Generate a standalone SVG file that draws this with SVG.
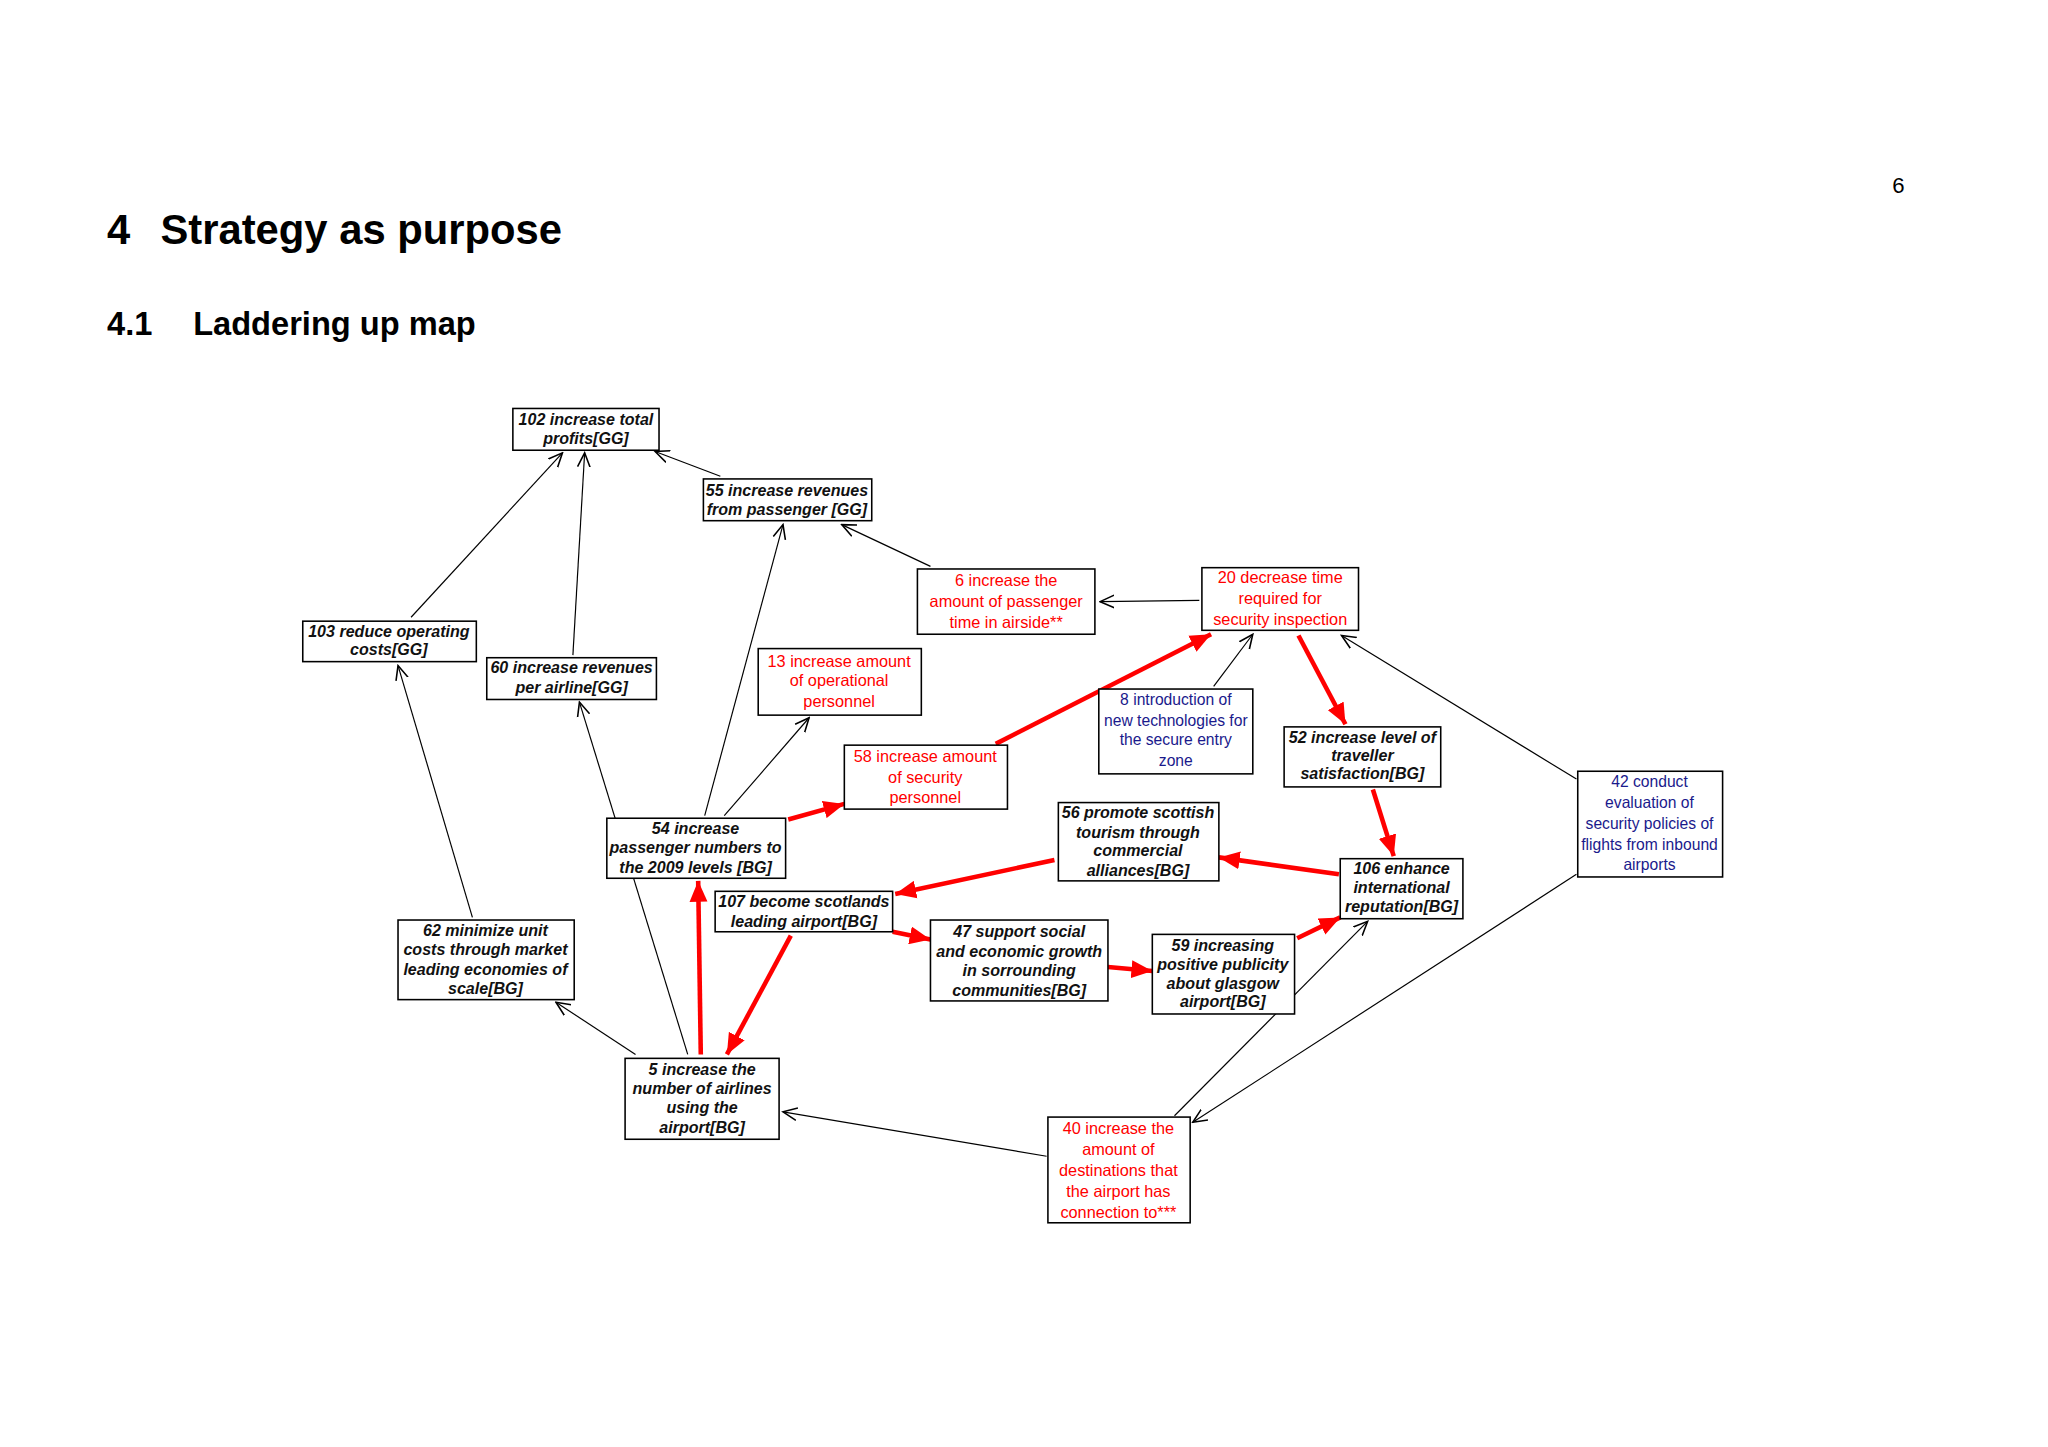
<svg xmlns="http://www.w3.org/2000/svg" width="2048" height="1447" viewBox="0 0 2048 1447">
<style>
.b{fill:#fff;stroke:#000;stroke-width:1.2}
.k{font-family:"Liberation Sans",Arial,sans-serif;font-size:12.3px;font-weight:bold;font-style:italic;fill:#111;text-anchor:middle}
.r{font-family:"Liberation Sans",Arial,sans-serif;font-size:12.5px;fill:#f00;text-anchor:middle}
.u{font-family:"Liberation Sans",Arial,sans-serif;font-size:12px;fill:#1a1a8c;text-anchor:middle}
.t{stroke:#000;stroke-width:0.9;fill:none;marker-end:url(#oa)}
.h{stroke:#f00;stroke-width:3.5;fill:none;marker-end:url(#fa)}
.hd{font-family:"Liberation Sans",Arial,sans-serif;font-weight:bold;fill:#000}
</style>
<defs>
<marker id="oa" markerUnits="userSpaceOnUse" markerWidth="12" markerHeight="12" refX="9" refY="5" orient="auto" viewBox="0 0 10 10"><path d="M0,1 L9,5 L0,9" fill="none" stroke="#000" stroke-width="1"/></marker>
<marker id="fa" markerUnits="userSpaceOnUse" markerWidth="16" markerHeight="14" refX="14" refY="6" orient="auto" viewBox="0 0 14 12"><path d="M0,0 L14,6 L0,12 Z" fill="#f00"/></marker>
</defs>
<rect width="2048" height="1447" fill="#fff"/>
<g transform="scale(1.305)">
<text class="hd" x="82" y="187" font-size="32">4</text><text class="hd" x="123" y="187" font-size="32">Strategy as purpose</text>
<text class="hd" x="82" y="257" font-size="25">4.1</text><text class="hd" x="148" y="257" font-size="25">Laddering up map</text>
<text x="1450" y="148" font-family="Liberation Sans,Arial,sans-serif" font-size="17">6</text>
<g id="connectors">
<line class="t" x1="315" y1="473" x2="431" y2="347"/>
<line class="t" x1="439" y1="502" x2="448" y2="347"/>
<line class="t" x1="552" y1="365" x2="502" y2="346"/>
<line class="t" x1="713" y1="434" x2="645" y2="402"/>
<line class="t" x1="919" y1="460" x2="843" y2="461"/>
<line class="t" x1="540" y1="625" x2="600" y2="402"/>
<line class="t" x1="555" y1="625" x2="620" y2="550"/>
<line class="t" x1="930" y1="526" x2="960" y2="486"/>
<line class="t" x1="1208" y1="597" x2="1028" y2="487"/>
<line class="t" x1="362" y1="703" x2="305" y2="510"/>
<line class="t" x1="527" y1="808" x2="444" y2="538"/>
<line class="t" x1="487" y1="808" x2="426" y2="768"/>
<line class="t" x1="802" y1="886" x2="600" y2="852"/>
<line class="t" x1="900" y1="855" x2="1048" y2="706"/>
<line class="t" x1="1208" y1="670" x2="914" y2="860"/>
<line class="h" x1="763" y1="570" x2="928" y2="486"/>
<line class="h" x1="604" y1="628" x2="647" y2="616"/>
<line class="h" x1="995" y1="487" x2="1031" y2="555"/>
<line class="h" x1="1052" y1="605" x2="1068" y2="656"/>
<line class="h" x1="1026" y1="670" x2="934" y2="657"/>
<line class="h" x1="808" y1="659" x2="686" y2="685"/>
<line class="h" x1="684" y1="714" x2="713" y2="720"/>
<line class="h" x1="849" y1="741" x2="883" y2="744"/>
<line class="h" x1="994" y1="719" x2="1027" y2="703"/>
<line class="h" x1="537" y1="808" x2="535" y2="675"/>
<line class="h" x1="606" y1="717" x2="557" y2="808"/>
</g>
<g id="n102"><rect class="b" x="393" y="313" width="112" height="32"/><text class="k" x="449" y="326">102 increase total</text><text class="k" x="449" y="340">profits[GG]</text></g>
<g id="n55"><rect class="b" x="539" y="367" width="129" height="32"/><text class="k" x="603" y="380">55 increase revenues</text><text class="k" x="603" y="395">from passenger [GG]</text></g>
<g id="n6"><rect class="b" x="703" y="436" width="136" height="50"/><text class="r" x="771" y="449">6 increase the</text><text class="r" x="771" y="465">amount of passenger</text><text class="r" x="771" y="481">time in airside**</text></g>
<g id="n20"><rect class="b" x="921" y="435" width="120" height="48"/><text class="r" x="981" y="447">20 decrease time</text><text class="r" x="981" y="463">required for</text><text class="r" x="981" y="479">security inspection</text></g>
<g id="n103"><rect class="b" x="232" y="476" width="133" height="31"/><text class="k" x="298" y="488">103 reduce operating</text><text class="k" x="298" y="502">costs[GG]</text></g>
<g id="n60"><rect class="b" x="373" y="504" width="130" height="32"/><text class="k" x="438" y="516">60 increase revenues</text><text class="k" x="438" y="531">per airline[GG]</text></g>
<g id="n13"><rect class="b" x="581" y="497" width="125" height="51"/><text class="r" x="643" y="511">13 increase amount</text><text class="r" x="643" y="526">of operational</text><text class="r" x="643" y="542">personnel</text></g>
<g id="n58"><rect class="b" x="647" y="571" width="125" height="49"/><text class="r" x="709" y="584">58 increase amount</text><text class="r" x="709" y="600">of security</text><text class="r" x="709" y="615">personnel</text></g>
<g id="n8"><rect class="b" x="842" y="528" width="118" height="65"/><text class="u" x="901" y="540">8 introduction of</text><text class="u" x="901" y="556">new technologies for</text><text class="u" x="901" y="571">the secure entry</text><text class="u" x="901" y="587">zone</text></g>
<g id="n52"><rect class="b" x="984" y="557" width="120" height="46"/><text class="k" x="1044" y="569">52 increase level of</text><text class="k" x="1044" y="583">traveller</text><text class="k" x="1044" y="597">satisfaction[BG]</text></g>
<g id="n42"><rect class="b" x="1209" y="591" width="111" height="81"/><text class="u" x="1264" y="603">42 conduct</text><text class="u" x="1264" y="619">evaluation of</text><text class="u" x="1264" y="635">security policies of</text><text class="u" x="1264" y="651">flights from inbound</text><text class="u" x="1264" y="667">airports</text></g>
<g id="n56"><rect class="b" x="811" y="615" width="123" height="60"/><text class="k" x="872" y="627">56 promote scottish</text><text class="k" x="872" y="642">tourism through</text><text class="k" x="872" y="656">commercial</text><text class="k" x="872" y="671">alliances[BG]</text></g>
<g id="n106"><rect class="b" x="1027" y="658" width="94" height="46"/><text class="k" x="1074" y="670">106 enhance</text><text class="k" x="1074" y="684">international</text><text class="k" x="1074" y="699">reputation[BG]</text></g>
<g id="n54"><rect class="b" x="465" y="627" width="137" height="46"/><text class="k" x="533" y="639">54 increase</text><text class="k" x="533" y="654">passenger numbers to</text><text class="k" x="533" y="669">the 2009 levels [BG]</text></g>
<g id="n107"><rect class="b" x="548" y="683" width="136" height="31"/><text class="k" x="616" y="695">107 become scotlands</text><text class="k" x="616" y="710">leading airport[BG]</text></g>
<g id="n47"><rect class="b" x="713" y="705" width="136" height="62"/><text class="k" x="781" y="718">47 support social</text><text class="k" x="781" y="733">and economic growth</text><text class="k" x="781" y="748">in sorrounding</text><text class="k" x="781" y="763">communities[BG]</text></g>
<g id="n59"><rect class="b" x="883" y="716" width="109" height="61"/><text class="k" x="937" y="729">59 increasing</text><text class="k" x="937" y="743">positive publicity</text><text class="k" x="937" y="758">about glasgow</text><text class="k" x="937" y="772">airport[BG]</text></g>
<g id="n62"><rect class="b" x="305" y="705" width="135" height="61"/><text class="k" x="372" y="717">62 minimize unit</text><text class="k" x="372" y="732">costs through market</text><text class="k" x="372" y="747">leading economies of</text><text class="k" x="372" y="762">scale[BG]</text></g>
<g id="n5"><rect class="b" x="479" y="811" width="118" height="62"/><text class="k" x="538" y="824">5 increase the</text><text class="k" x="538" y="838">number of airlines</text><text class="k" x="538" y="853">using the</text><text class="k" x="538" y="868">airport[BG]</text></g>
<g id="n40"><rect class="b" x="803" y="856" width="109" height="81"/><text class="r" x="857" y="869">40 increase the</text><text class="r" x="857" y="885">amount of</text><text class="r" x="857" y="901">destinations that</text><text class="r" x="857" y="917">the airport has</text><text class="r" x="857" y="933">connection to***</text></g>
</g>
</svg>
